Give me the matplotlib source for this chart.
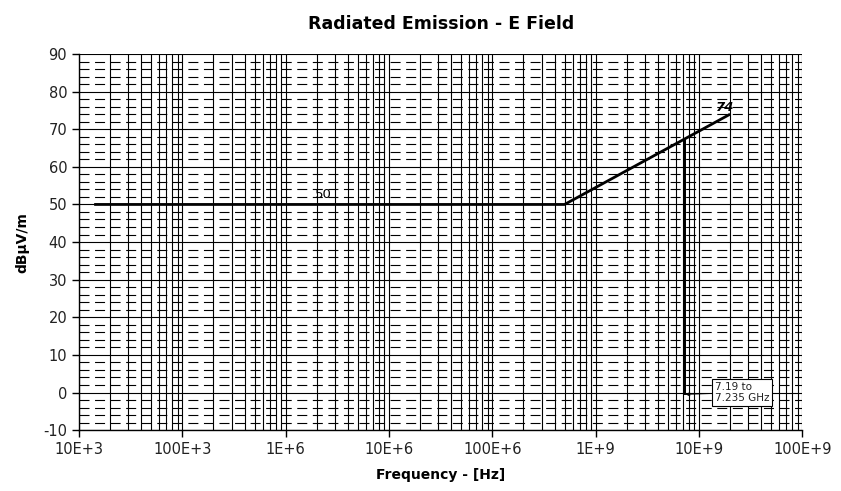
import numpy as np
import matplotlib.pyplot as plt
from matplotlib.ticker import FixedLocator, FixedFormatter, LogLocator, MultipleLocator

plt.rcParams['axes.unicode_minus'] = False

# limit line (Hz, dBuV/m)
limit_freq = [1.4e4, 5e8, 2e10]
limit_level = [50, 50, 74]

# notch 7.19 to 7.235 GHz
notch_freq = [7.19e9, 7.235e9]
notch_level = [0, 67.4]

x_ticks = [1e4, 1e5, 1e6, 1e7, 1e8, 1e9, 1e10, 1e11]
x_labels = ["10E+3", "100E+3", "1E+6", "10E+6", "100E+6", "1E+9", "10E+9", "100E+9"]

fig = plt.figure(figsize=(8.41, 4.91), dpi=100)
ax = fig.add_axes([0.094, 0.124, 0.860, 0.766])

ax.set_xscale("log")
ax.set_xlim(1e4, 1e11)
ax.set_ylim(-10, 90)

ax.xaxis.set_major_locator(FixedLocator(x_ticks))
ax.xaxis.set_major_formatter(FixedFormatter(x_labels))
ax.xaxis.set_minor_locator(LogLocator(base=10, subs=np.arange(2, 10), numticks=20))
ax.yaxis.set_major_locator(MultipleLocator(10))
ax.yaxis.set_minor_locator(MultipleLocator(2))

# excel-style grid: solid verticals, dashed minor horizontals
ax.grid(which="major", axis="both", color="black", lw=0.8)
ax.grid(which="minor", axis="x", color="black", lw=0.8)
ax.grid(which="minor", axis="y", color="black", lw=0.8, linestyle=(0, (9, 5)))
ax.set_axisbelow(True)

ax.tick_params(which="major", direction="out", length=5, width=1, color="black",
               labelsize=10.5, labelcolor="#222222")
ax.tick_params(which="minor", length=0)
for s in ["top", "right"]:
    ax.spines[s].set_visible(False)
for s in ["left", "bottom"]:
    ax.spines[s].set_linewidth(1)

ax.plot(limit_freq, limit_level, color="black", lw=2, solid_capstyle="butt")
for f in notch_freq:
    ax.plot([f, f], notch_level, color="black", lw=2)

ax.text(2.3e6, 51, "50", ha="center", va="bottom", fontsize=9.5)
ax.text(1.8e10, 74, "74", ha="center", va="bottom", fontsize=9.5,
        fontweight="bold", style="italic")

ax.annotate("7.19 to\n7.235 GHz", xy=(7.4e9, -0.5), xytext=(1.42e10, 0),
            fontsize=7.5, va="center", ha="left", color="#222222",
            bbox=dict(boxstyle="square,pad=0.25", fc="white", ec="black", lw=0.8),
            arrowprops=dict(arrowstyle="-|>", color="black", lw=0.6,
                            mutation_scale=6, shrinkA=0, shrinkB=0))

ax.set_title("Radiated Emission - E Field", fontsize=12.5, fontweight="bold", pad=18)
ax.set_xlabel("Frequency - [Hz]", fontsize=10, fontweight="bold", labelpad=8)
ax.set_ylabel("dB\u03bcV/m", fontsize=10, fontweight="bold", labelpad=10)

fig.savefig("out.png", dpi=100)
